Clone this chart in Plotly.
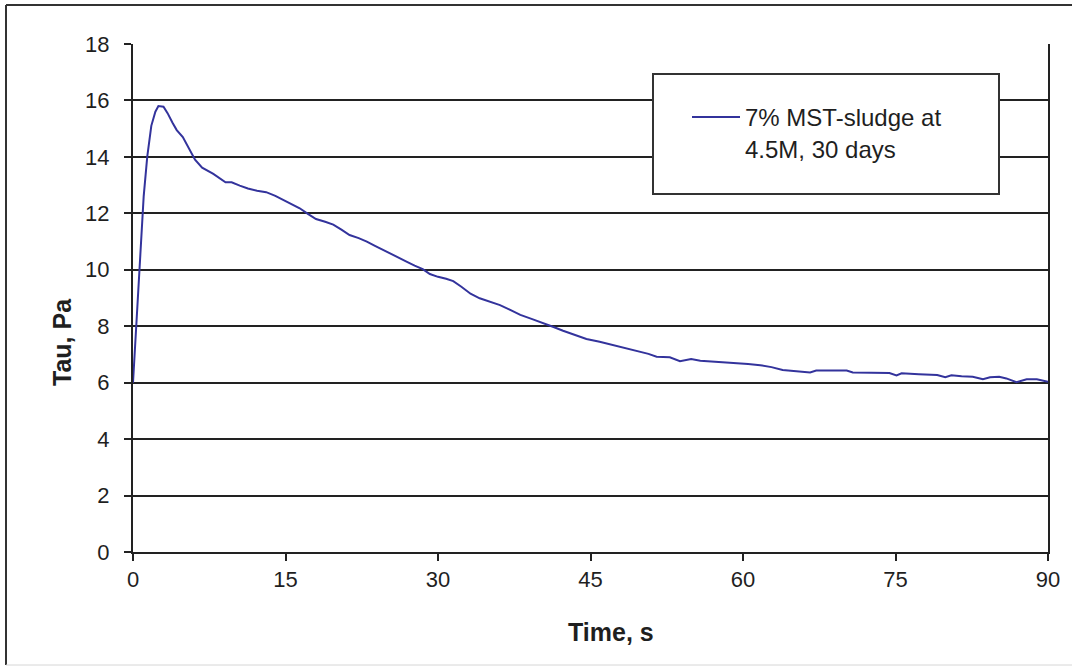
import plotly.graph_objects as go

# Shear stress transient for the sludge sample
time_s = [0, 0.35, 0.7, 1.05, 1.4, 1.8, 2.2, 2.5, 3.0, 3.4, 3.9, 4.3, 4.9, 5.5, 6.1, 6.8,
          7.9, 9.1, 9.7, 10.5, 11.3, 12.2, 13.1, 14.0, 14.8, 15.6, 16.4, 17.2, 18.0, 18.9,
          19.7, 20.5, 21.3, 22.2, 23.0, 23.8, 24.6, 25.4, 26.2, 26.9, 27.7, 28.5, 29.2,
          30.0, 30.8, 31.5, 32.3, 33.2, 34.1, 35.1, 36.1, 37.1, 38.1, 39.2, 40.3, 41.3,
          42.3, 43.4, 44.6, 45.9, 47.2, 48.5, 49.8, 50.7, 51.5, 52.8, 53.8, 54.9, 55.8,
          56.7, 58.0, 59.4, 60.5, 61.7, 62.8, 63.9, 65.2, 66.6, 67.2, 68.7, 70.2, 70.8,
          72.6, 74.4, 75.1, 75.6, 77.3, 79.1, 79.9, 80.5, 81.5, 82.6, 83.6, 84.3, 85.2,
          85.9, 86.9, 87.9, 88.9, 90.0]
tau_pa = [6.0, 8.2, 10.3, 12.6, 14.0, 15.1, 15.6, 15.8, 15.78, 15.55, 15.2, 14.95, 14.7,
          14.3, 13.9, 13.62, 13.4, 13.1, 13.1, 12.98, 12.88, 12.8, 12.75, 12.62, 12.47,
          12.33, 12.18, 11.98, 11.8, 11.7, 11.6, 11.42, 11.23, 11.12, 11.0, 10.85, 10.7,
          10.58, 10.43, 10.29, 10.15, 10.02, 9.85, 9.75, 9.68, 9.6, 9.4, 9.15, 8.99, 8.88,
          8.75, 8.58, 8.4, 8.26, 8.1, 7.98, 7.84, 7.7, 7.55, 7.45, 7.34, 7.22, 7.12, 7.02,
          6.92, 6.9, 6.76, 6.84, 6.78, 6.76, 6.72, 6.69, 6.66, 6.62, 6.55, 6.45, 6.4, 6.36,
          6.43, 6.43, 6.43, 6.36, 6.35, 6.34, 6.26, 6.33, 6.3, 6.27, 6.19, 6.26, 6.23, 6.21,
          6.12, 6.19, 6.21, 6.15, 6.02, 6.12, 6.12, 6.03]

series_name = "7% MST-sludge at<br>4.5M, 30 days"
x_title = "Time, s"
y_title = "Tau, Pa"
x_ticks = [0, 15, 30, 45, 60, 75, 90]
y_ticks = [0, 2, 4, 6, 8, 10, 12, 14, 16, 18]

FONT = "Liberation Sans, Arial, sans-serif"
INK = "#1f1f1f"

# plot area in pixels: left 133, right 1048, top 44, bottom 552
PX_L, PX_W, PX_B, PX_H = 133, 915, 552, 508


def px_x(px):
    return (px - PX_L) / PX_W


def px_y(py):
    return (PX_B - py) / PX_H


fig = go.Figure()
fig.add_trace(go.Scatter(
    x=time_s, y=tau_pa, mode="lines", name=series_name,
    line=dict(color="#33339c", width=2),
    showlegend=True,
))

# Legend frame and outer chart border
fig.add_shape(type="rect", xref="paper", yref="paper",
              x0=px_x(653), x1=px_x(999), y0=px_y(194), y1=px_y(74),
              line=dict(color="#333333", width=2), fillcolor="white", layer="above")
fig.add_shape(type="line", xref="paper", yref="paper",
              x0=px_x(6), x1=px_x(6), y0=px_y(5), y1=px_y(665),
              line=dict(color="#333333", width=2))
fig.add_shape(type="line", xref="paper", yref="paper",
              x0=px_x(6), x1=px_x(1080), y0=px_y(5), y1=px_y(5),
              line=dict(color="#333333", width=2))
fig.add_shape(type="line", xref="paper", yref="paper",
              x0=px_x(6), x1=px_x(1080), y0=px_y(665), y1=px_y(665),
              line=dict(color="#d6d6d6", width=1))

# Axis titles
fig.add_annotation(text=f"<b>{x_title}</b>", xref="paper", yref="paper",
                   x=px_x(611), y=px_y(632), xanchor="center", yanchor="middle",
                   showarrow=False, font=dict(family=FONT, size=25, color=INK))
fig.add_annotation(text=f"<b>{y_title}</b>", xref="paper", yref="paper",
                   x=px_x(62), y=px_y(342), xanchor="center", yanchor="middle",
                   textangle=-90, showarrow=False,
                   font=dict(family=FONT, size=25, color=INK))

fig.update_layout(
    width=1072, height=666,
    margin=dict(l=133, r=24, t=44, b=114),
    paper_bgcolor="white", plot_bgcolor="white",
    font=dict(family=FONT, color=INK, size=22),
    legend=dict(
        x=px_x(687), y=px_y(95), xanchor="left", yanchor="top",
        bgcolor="rgba(0,0,0,0)", borderwidth=0, valign="top",
        font=dict(family=FONT, size=24, color=INK),
        itemwidth=48,
    ),
    xaxis=dict(
        range=[0, 90], tickvals=x_ticks, ticks="outside", ticklen=7, tickwidth=2,
        tickcolor="#222222", showgrid=False, zeroline=False,
        showline=True, linecolor="#222222", linewidth=2,
        tickfont=dict(size=22, color=INK),
    ),
    yaxis=dict(
        range=[0, 18], tickvals=y_ticks, ticks="outside", ticklen=7, tickwidth=2,
        tickcolor="#222222", showgrid=True, gridcolor="#222222", gridwidth=2,
        zeroline=False, showline=True, mirror=True, linecolor="#222222", linewidth=2,
        tickfont=dict(size=22, color=INK), ticklabelstandoff=10,
    ),
)

fig.write_html("out.html")
